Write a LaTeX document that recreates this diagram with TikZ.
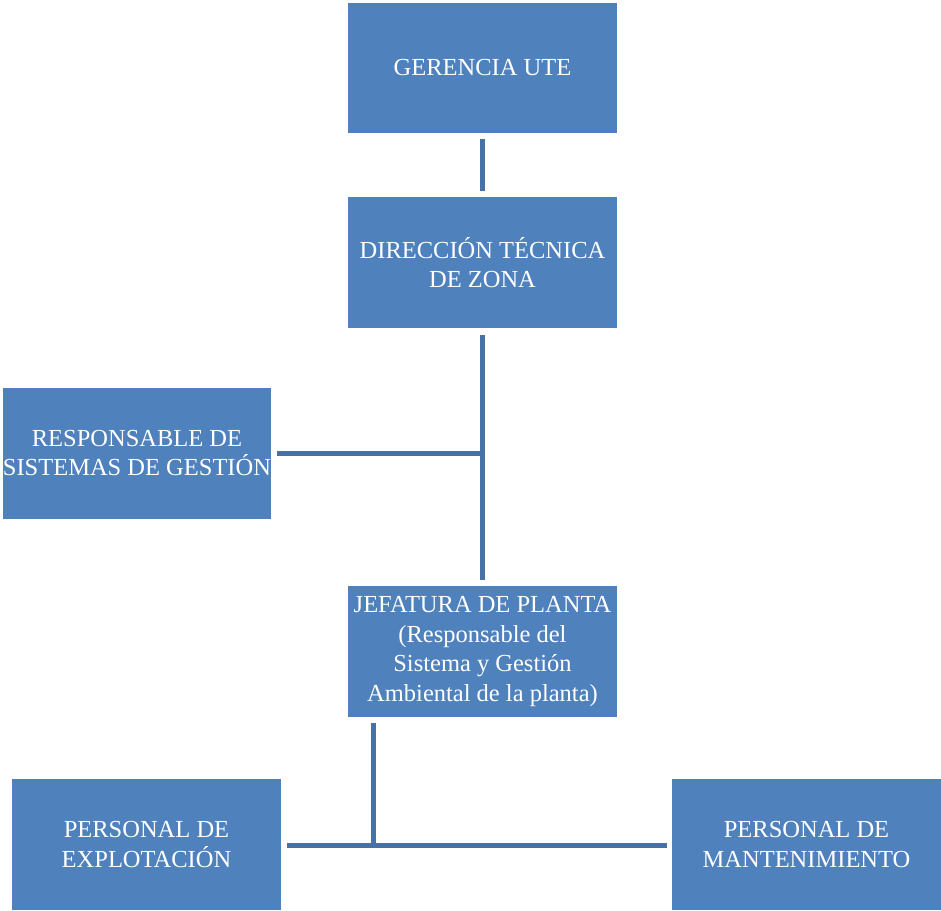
\documentclass[tikz,border=0pt]{standalone}
\usepackage{fontspec}
\setmainfont{Liberation Serif}
\definecolor{boxblue}{HTML}{4F81BD}
\definecolor{lineblue}{HTML}{4672A8}
\begin{document}
\begin{tikzpicture}[x=1pt,y=-1pt,
  orgbox/.style={fill=boxblue,draw=none,text=white,align=center,
    minimum width=269pt,minimum height=131pt,inner sep=0pt,
    font=\fontsize{24.5}{29.5}\selectfont},
  conn/.style={draw=lineblue,line width=5pt}]
\useasboundingbox (0,0) rectangle (941,910);
\node[orgbox,minimum height=130pt] (ger) at (482.5,68) {GERENCIA UTE};
\node[orgbox] (dir) at (482.5,262.5) {DIRECCIÓN TÉCNICA\\DE ZONA};
\node[orgbox,minimum width=268pt] (resp) at (137,453) {RESPONSABLE DE\\SISTEMAS DE GESTIÓN};
\node[orgbox] (jef) at (482.5,651.5) {JEFATURA DE PLANTA\\(Responsable del\\Sistema y Gestión\\Ambiental de la planta)};
\node[orgbox] (expl) at (146.5,844.5) {PERSONAL DE\\EXPLOTACIÓN};
\node[orgbox] (mant) at (806.5,844.5) {PERSONAL DE\\MANTENIMIENTO};
\coordinate (j1) at (482.5,453);
\coordinate (j2) at (373,845);
\draw[conn,shorten <=6pt,shorten >=6pt] (ger.south) -- (dir.north);
\draw[conn,shorten <=7pt,shorten >=6pt] (dir.south) -- (jef.north);
\draw[conn,shorten <=6pt] (resp.east) -- (j1);
\draw[conn,shorten <=6pt] (jef.south -| j2) -- (j2);
\draw[conn,shorten <=6pt,shorten >=5pt] (expl.east |- j2) -- (mant.west |- j2);
\end{tikzpicture}
\end{document}
